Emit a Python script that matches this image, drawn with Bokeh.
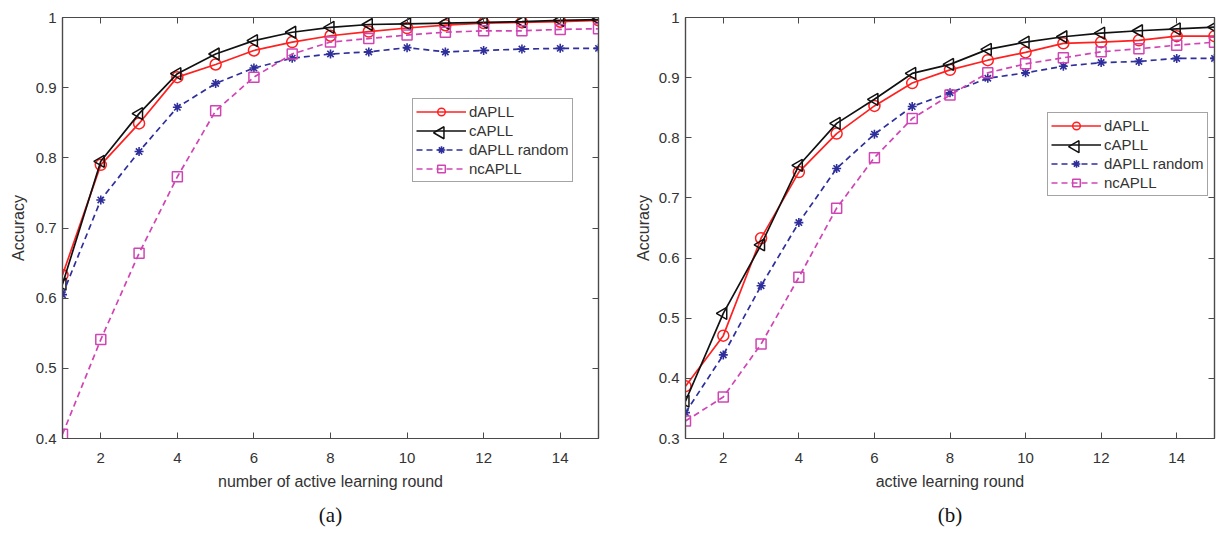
import numpy as np
from bokeh.plotting import figure
from bokeh.layouts import row
from bokeh.models import (LinearAxis, FixedTicker, PrintfTickFormatter, Legend,
                          LegendItem, Range1d, Title)
from bokeh.embed import file_html
from bokeh.resources import INLINE

rounds = list(range(1, 16))

# (a) accuracy per active learning round
a_dapll = [0.633, 0.790, 0.849, 0.915, 0.933, 0.953, 0.965, 0.974, 0.980, 0.985, 0.989, 0.992, 0.993, 0.994, 0.996]
a_capll = [0.620, 0.795, 0.863, 0.920, 0.948, 0.967, 0.979, 0.986, 0.990, 0.991, 0.992, 0.993, 0.994, 0.996, 0.997]
a_random = [0.605, 0.740, 0.809, 0.872, 0.906, 0.928, 0.942, 0.948, 0.951, 0.957, 0.951, 0.953, 0.955, 0.956, 0.956]
a_ncapll = [0.406, 0.541, 0.664, 0.773, 0.867, 0.915, 0.948, 0.965, 0.970, 0.975, 0.979, 0.981, 0.981, 0.983, 0.984]

# (b) accuracy per active learning round
b_dapll = [0.387, 0.471, 0.633, 0.743, 0.807, 0.853, 0.891, 0.913, 0.929, 0.942, 0.957, 0.959, 0.962, 0.969, 0.969]
b_capll = [0.362, 0.508, 0.622, 0.754, 0.824, 0.864, 0.907, 0.922, 0.947, 0.959, 0.968, 0.974, 0.978, 0.981, 0.984]
b_random = [0.343, 0.439, 0.554, 0.659, 0.749, 0.806, 0.852, 0.875, 0.899, 0.908, 0.919, 0.925, 0.927, 0.932, 0.932]
b_ncapll = [0.329, 0.369, 0.457, 0.568, 0.683, 0.767, 0.832, 0.871, 0.908, 0.923, 0.933, 0.943, 0.948, 0.954, 0.959]

labels = ["dAPLL", "cAPLL", "dAPLL random", "ncAPLL"]
x_ticks = [2, 4, 6, 8, 10, 12, 14]

RED = "#ff2020"
BLACK = "#111111"
BLUE = "#2f2f9c"
MAGENTA = "#d045b4"
AXIS = "#4a4a4a"
TEXT = "#333333"
SANS = "Liberation Sans"

FIG_W, FIG_H = 610, 535
BORDER_TOP, BORDER_BOTTOM = 17, 96
X_MIN, X_MAX = 1, 15

# legend geometry (screen pixels, relative to the plot frame)
LEG_PAD = 3
LEG_ROW = 19
LEG_GLYPH_W = 50


def style_axis(ax, show_labels=True):
    ax.axis_line_color = AXIS
    ax.axis_line_width = 1.2
    ax.major_tick_line_color = AXIS
    ax.major_tick_in = 6
    ax.major_tick_out = 0
    ax.minor_tick_line_color = None
    ax.major_label_text_font = SANS
    ax.major_label_text_color = TEXT
    ax.axis_label_text_font = SANS
    ax.axis_label_text_color = TEXT
    ax.axis_label_text_font_style = "normal"
    ax.axis_label_text_font_size = "16px"
    if show_labels:
        ax.major_label_text_font_size = "15px"
    else:
        ax.major_label_text_font_size = "0px"
        ax.major_label_text_color = None
        ax.major_label_standoff = 0


def panel(series, y_min, y_ticks, xlabel, caption, border_left, border_right,
          legend_loc, ylab_standoff):
    p = figure(width=FIG_W, height=FIG_H, x_range=Range1d(X_MIN, X_MAX), y_range=Range1d(y_min, 1),
               output_backend="svg", toolbar_location=None,
               min_border_left=border_left, min_border_right=border_right,
               min_border_top=BORDER_TOP, min_border_bottom=BORDER_BOTTOM)
    p.grid.visible = False
    p.outline_line_color = AXIS
    p.outline_line_width = 1.2
    p.background_fill_color = "white"
    p.border_fill_color = "white"

    xa = p.xaxis[0]
    ya = p.yaxis[0]
    xa.ticker = FixedTicker(ticks=x_ticks)
    ya.ticker = FixedTicker(ticks=y_ticks)
    ya.formatter = PrintfTickFormatter(format="%g")
    style_axis(xa)
    style_axis(ya)
    xa.major_label_standoff = 14
    xa.axis_label = xlabel
    xa.axis_label_standoff = 7
    ya.major_label_standoff = 6
    ya.axis_label = "Accuracy"
    ya.axis_label_standoff = ylab_standoff

    top = LinearAxis(ticker=FixedTicker(ticks=x_ticks))
    right = LinearAxis(ticker=FixedTicker(ticks=y_ticks))
    style_axis(top, False)
    style_axis(right, False)
    p.add_layout(top, "above")
    p.add_layout(right, "right")

    d, c, r, n = series
    items = []

    l1 = p.line(rounds, d, line_color=RED, line_width=1.7)
    m1 = p.scatter(rounds, d, marker="circle", size=11, fill_color=None,
                   line_color=RED, line_width=1.5)
    items.append(LegendItem(label=labels[0], renderers=[l1, m1]))

    l2 = p.line(rounds, c, line_color=BLACK, line_width=1.7)
    p.scatter(rounds, c, marker="triangle", angle=np.pi / 2, size=12,
              fill_color=None, line_color=BLACK, line_width=1.5)
    items.append(LegendItem(label=labels[1], renderers=[l2]))

    l3 = p.line(rounds, r, line_color=BLUE, line_width=1.7, line_dash="6 4")
    m3 = p.scatter(rounds, r, marker="asterisk", size=9, line_color=BLUE,
                   line_width=1.6)
    items.append(LegendItem(label=labels[2], renderers=[l3, m3]))

    l4 = p.line(rounds, n, line_color=MAGENTA, line_width=1.7, line_dash="6 4")
    m4 = p.scatter(rounds, n, marker="square", size=10, fill_color=None,
                   line_color=MAGENTA, line_width=1.5)
    items.append(LegendItem(label=labels[3], renderers=[l4, m4]))

    leg = Legend(items=items, location=legend_loc)
    leg.label_text_font = SANS
    leg.label_text_font_size = "15px"
    leg.label_text_color = TEXT
    leg.glyph_width = LEG_GLYPH_W
    leg.glyph_height = LEG_ROW
    leg.label_height = LEG_ROW
    leg.label_standoff = 3
    leg.spacing = 0
    leg.padding = LEG_PAD
    leg.margin = 0
    leg.border_line_color = AXIS
    leg.border_line_width = 1.2
    leg.background_fill_alpha = 0
    p.add_layout(leg)

    # legend glyphs are never rotated, so the left-pointing cAPLL triangle
    # is placed over its legend row, converting frame pixels to data units
    frame_w = FIG_W - border_left - border_right
    frame_h = FIG_H - BORDER_TOP - BORDER_BOTTOM
    lx, ly = legend_loc
    leg_top = ly + 2 * LEG_PAD + 4 * LEG_ROW
    sx = lx + LEG_PAD + LEG_GLYPH_W / 2
    sy = leg_top - LEG_PAD - 1.5 * LEG_ROW
    tx = X_MIN + sx / frame_w * (X_MAX - X_MIN)
    ty = y_min + sy / frame_h * (1 - y_min)
    p.scatter([tx], [ty], marker="triangle", angle=np.pi / 2, size=12,
              fill_color=None, line_color=BLACK, line_width=1.5)

    cap = Title(text=caption, align="center", text_font="Liberation Serif",
                text_font_size="21px", text_font_style="normal",
                text_color="#111111", standoff=17)
    p.add_layout(cap, "below")
    return p


pa = panel((a_dapll, a_capll, a_random, a_ncapll), 0.4,
           [0.4, 0.5, 0.6, 0.7, 0.8, 0.9, 1.0],
           "number of active learning round", "(a)", 62, 12, (350, 256), 6)
pb = panel((b_dapll, b_capll, b_random, b_ncapll), 0.3,
           [0.3, 0.4, 0.5, 0.6, 0.7, 0.8, 0.9, 1.0],
           "active learning round", "(b)", 75, 6, (362, 242), 4)

layout = row(pa, pb, spacing=0)

with open("out.html", "w") as f:
    f.write(file_html(layout, INLINE))
